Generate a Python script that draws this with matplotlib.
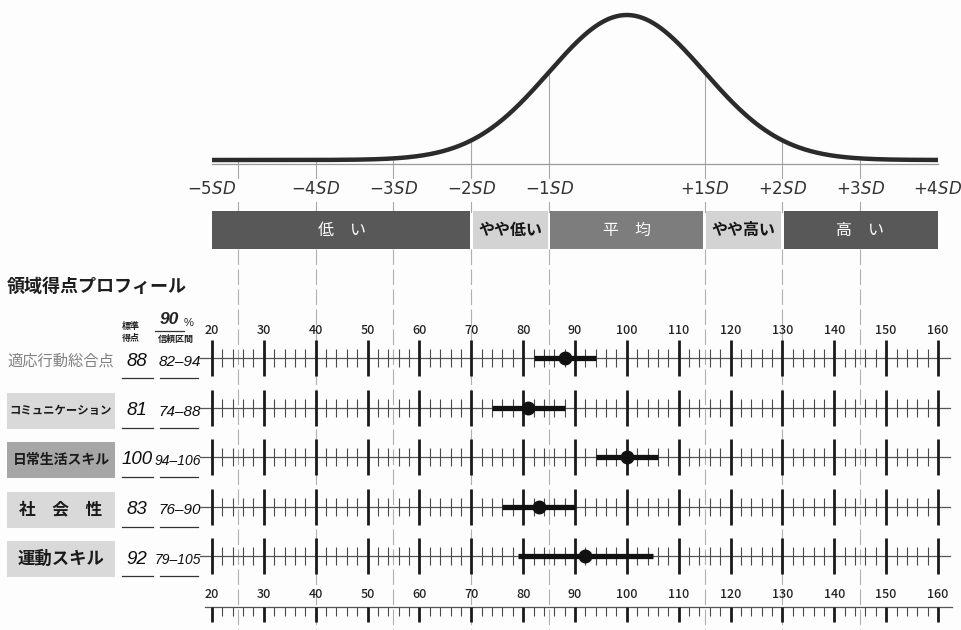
import numpy as np
import matplotlib
matplotlib.use("Agg")
import matplotlib.pyplot as plt
from matplotlib.patches import Rectangle
from matplotlib import font_manager

# ---- profile data ----
domains = ["適応行動総合点", "コミュニケーション", "日常生活スキル", "社　会　性", "運動スキル"]
scores = [88, 81, 100, 83, 92]
ci_low = [82, 74, 94, 76, 79]
ci_high = [94, 88, 106, 90, 105]

# ---- reference scale ----
MEAN, SD = 100, 15
sd_steps = [-5, -4, -3, -2, -1, 1, 2, 3, 4]
band_labels = ["低　い", "やや低い", "平　均", "やや高い", "高　い"]
band_edges = [20, 70, 85, 115, 130, 160]
scale_ticks = list(range(20, 161, 10))
minor_ticks = [v for v in range(20, 161, 2) if v % 10]

# ---- styling ----
band_colors = ["#585858", "#d3d3d3", "#7d7d7d", "#d3d3d3", "#585858"]
band_text = ["white", "#151515", "white", "#151515", "white"]
band_weight = ["normal", "bold", "normal", "bold", "normal"]
label_box = [None, "#d9d9d9", "#a6a6a6", "#d9d9d9", "#d9d9d9"]
label_size = [11, 8.2, 10, 12, 12.5]
label_color = ["#808080", "#1a1a1a", "#1a1a1a", "#1a1a1a", "#1a1a1a"]

plt.rcParams["font.family"] = ["Noto Sans CJK JP", "DejaVu Sans"]
plt.rcParams["mathtext.fontset"] = "dejavusans"

names = {f.name for f in font_manager.fontManager.ttflist}
num_font = next((n for n in ["Liberation Sans", "Roboto"] if n in names), "DejaVu Sans")

W, H = 962, 630
fig = plt.figure(figsize=(W / 100, H / 100), dpi=100, facecolor="#fdfdfd")

# score axis: 20 -> 212 px, 160 -> 938 px
PPU = (938 - 212) / 140
X0 = 20 - 212 / PPU
X1 = X0 + W / PPU


def xp(px):
    """pixel column -> score units"""
    return X0 + px / PPU


ax = fig.add_axes([0, 0, 1, 1])
ax.set_xlim(X0, X1)
ax.set_ylim(H, 0)
ax.axis("off")

# ---- normal curve ----
CURVE_BASE, CURVE_TOP = 160, 15
cax = fig.add_axes([0, (H - CURVE_BASE) / H, 1, (CURVE_BASE - CURVE_TOP) / H])
cax.set_xlim(X0, X1)
cax.set_ylim(0, 1)
cax.axis("off")
xs = np.linspace(scale_ticks[0], scale_ticks[-1], 600)
dens = np.exp(-0.5 * ((xs - MEAN) / SD) ** 2)
cax.plot(xs, dens, color="#2b2b2b", lw=3.2, clip_on=False, solid_capstyle="butt")
ax.plot([scale_ticks[0], scale_ticks[-1]], [CURVE_BASE + 4] * 2, color="#9a9a9a", lw=0.9)

# SD guide lines
for k in sd_steps:
    x = MEAN + k * SD
    if x <= scale_ticks[0] or x >= scale_ticks[-1]:
        continue
    ytop = CURVE_BASE - (CURVE_BASE - CURVE_TOP) * np.exp(-0.5 * k * k)
    ax.plot([x, x], [ytop, 178], color="#a8a8a8", lw=0.8, zorder=1)
    ax.plot([x, x], [202, 212], color="#a8a8a8", lw=0.8, zorder=1)
    ax.plot([x, x], [249, H], color="#b0b0b0", lw=0.8, zorder=1,
            dashes=(14, 4))

# SD labels (the outermost left label sits at the start of the curve)
for k in sd_steps:
    x = scale_ticks[0] if k == sd_steps[0] else MEAN + k * SD
    sign = "-" if k < 0 else "+"
    ax.text(x, 190, rf"${sign}{abs(k)}\mathit{{SD}}$", ha="center", va="center",
            fontsize=12, color="#333333")

# ---- classification bands ----
gap = 0.25
for i, lab in enumerate(band_labels):
    a, b = band_edges[i], band_edges[i + 1]
    a2 = a + (gap if i > 0 else 0)
    b2 = b - (gap if i < len(band_labels) - 1 else 0)
    ax.add_patch(Rectangle((a2, 211), b2 - a2, 38, facecolor=band_colors[i],
                           edgecolor="none", zorder=2))
    ax.text((a + b) / 2, 230, lab, ha="center", va="center", fontsize=11.5,
            color=band_text[i], fontweight=band_weight[i], zorder=3)

# ---- title and headers ----
ax.text(xp(7), 286, "領域得点プロフィール", ha="left", va="center",
        fontsize=13, fontweight="bold", color="#1e1e1e")
ax.text(xp(131), 326, "標準", ha="center", va="center", fontsize=6.5,
        fontweight="bold", color="#222")
ax.text(xp(131), 339, "得点", ha="center", va="center", fontsize=6.5,
        fontweight="bold", color="#222")
ax.text(xp(169), 320, "90", ha="center", va="center", fontsize=12.5,
        fontstyle="italic", fontweight="bold", family=num_font, color="#222")
ax.text(xp(189), 323, "%", ha="center", va="center", fontsize=8,
        family=num_font, color="#222")
ax.plot([xp(155), xp(184)], [331, 331], color="#333", lw=0.9)
ax.text(xp(176), 339, "信頼区間", ha="center", va="center", fontsize=6.5,
        fontweight="bold", color="#222")

# ---- rows ----
ROW0, ROW_STEP = 358, 49.5
line_l, line_r = xp(200), xp(950)
for i, name in enumerate(domains):
    y = ROW0 + ROW_STEP * i
    yl = y + 3
    # left-hand label
    if label_box[i]:
        ax.add_patch(Rectangle((xp(7), yl - 18), 108 / PPU, 36,
                               facecolor=label_box[i], edgecolor="none"))
    ax.text(xp(61), yl, name, ha="center", va="center", fontsize=label_size[i],
            color=label_color[i], fontweight="bold" if label_box[i] else "normal")
    ax.text(xp(137), yl, f"{scores[i]}", ha="center", va="center", fontsize=13.5,
            fontstyle="italic", family=num_font, color="#0d0d0d")
    ci_txt = f"{ci_low[i]}–{ci_high[i]}"
    ax.text(xp(201), yl + 1, ci_txt, ha="right", va="center",
            fontsize=11 if len(ci_txt) <= 5 else 10,
            fontstyle="italic", family=num_font, color="#0d0d0d")
    ax.plot([xp(122), xp(153)], [yl + 17] * 2, color="#333", lw=0.9)
    ax.plot([xp(160), xp(198)], [yl + 17] * 2, color="#333", lw=0.9)

    # scale line with ticks
    ax.plot([line_l, line_r], [y, y], color="#555", lw=0.9, zorder=3)
    ax.vlines(scale_ticks, y - 18, y + 18, color="#1a1a1a", lw=2.0, zorder=3)
    ax.vlines(minor_ticks, y - 9, y + 9, color="#4a4a4a", lw=0.8, zorder=3)

    # confidence interval and score
    ax.plot([ci_low[i], ci_high[i]], [y, y], color="#111", lw=3.8,
            solid_capstyle="butt", zorder=5)
    ax.plot([scores[i]], [y], "o", ms=9, color="#111", zorder=6)

# top tick labels
for t in scale_ticks:
    ax.text(t, 330, str(t), ha="center", va="center", fontsize=9,
            fontweight="medium", color="#222")

# bottom scale
YB = 607
ax.plot([xp(205), xp(952)], [YB, YB], color="#555", lw=0.9)
ax.vlines(scale_ticks, YB, YB + 15, color="#1a1a1a", lw=2.0)
ax.vlines(minor_ticks, YB, YB + 9, color="#4a4a4a", lw=0.8)
for t in scale_ticks:
    ax.text(t, 594, str(t), ha="center", va="center", fontsize=9,
            fontweight="medium", color="#222")

fig.savefig("out.png", dpi=100, facecolor=fig.get_facecolor())
